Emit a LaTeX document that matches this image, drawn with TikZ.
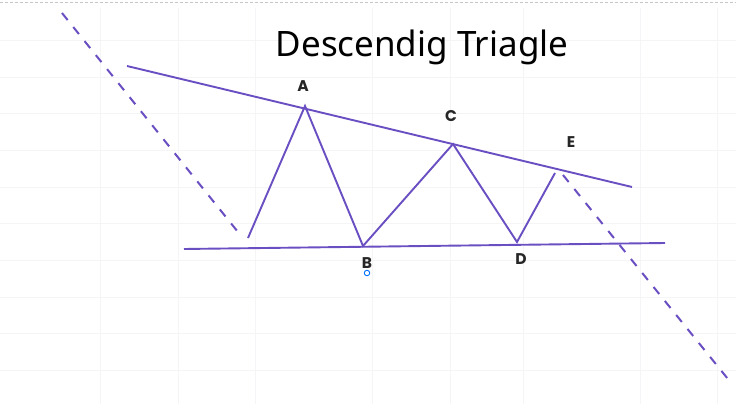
\documentclass[tikz,border=0pt]{standalone}
\usepackage{fontspec}
\setmainfont{Noto Sans}
\newfontfamily\lblfont{Poppins}
\definecolor{pline}{HTML}{6A4FC2}
\definecolor{gridc}{HTML}{F5F5F8}
\begin{document}
\begin{tikzpicture}[x=1pt,y=-1pt,
  trend/.style={pline, line width=1.9pt},
  dashtrend/.style={pline, line width=2pt, dash pattern=on 9pt off 9pt},
  lbl/.style={font=\lblfont\fontsize{15.5}{15.5}\selectfont\bfseries, text=black!85, inner sep=0pt}]
\useasboundingbox (0,0) rectangle (736,404);
\fill[white] (0,0) rectangle (736,404);
% faint grid
\foreach \x in {100,178,255,372,450,523,640,717} \draw[gridc, line width=0.6pt] (\x,8) -- (\x,404);
\foreach \y in {40,77,113,150,187,223,260,297,333,370} \draw[gridc, line width=0.6pt] (0,\y) -- (736,\y);
\draw[gray!45, line width=0.8pt, dash pattern=on 3pt off 2pt] (0,2) -- (736,2);
% title
\node[font=\fontsize{35}{35}\selectfont, inner sep=0pt] (title) at (422,47) {Descendig Triagle};
% points
\coordinate (ul) at (127,66);
\coordinate (ur) at (632,187);
\coordinate (ll) at (184,249);
\coordinate (lr) at (665,243);
\coordinate (s) at (248,238);
\coordinate (A) at (305,106);
\coordinate (B) at (363,246);
\coordinate (C) at (453,144);
\coordinate (D) at (517,242);
\coordinate (E) at (555,173);
\coordinate (d1a) at (62,13);
\coordinate (d1b) at (242,237);
\coordinate (d2a) at (563,175);
\coordinate (d2b) at (732,384);
% lines
\draw[trend] (ul) -- (ur);
\draw[trend] (ll) -- (lr);
\draw[trend, line join=miter] (s) -- (A) -- (B) -- (C) -- (D) -- (E);
\draw[dashtrend] (d1a) -- (d1b);
\draw[dashtrend] (d2a) -- (d2b);
% labels
\node[lbl] (lA) at (303,86) {A};
\node[lbl] (lB) at (367,263) {B};
\node[lbl] (lC) at (451,116) {C};
\node[lbl] (lD) at (521,259) {D};
\node[lbl] (lE) at (571,142) {E};
\node[draw=blue!55!cyan, line width=0.9pt, circle, minimum size=5.5pt, inner sep=0pt] (o) at (367,273) {};
\end{tikzpicture}
\end{document}
